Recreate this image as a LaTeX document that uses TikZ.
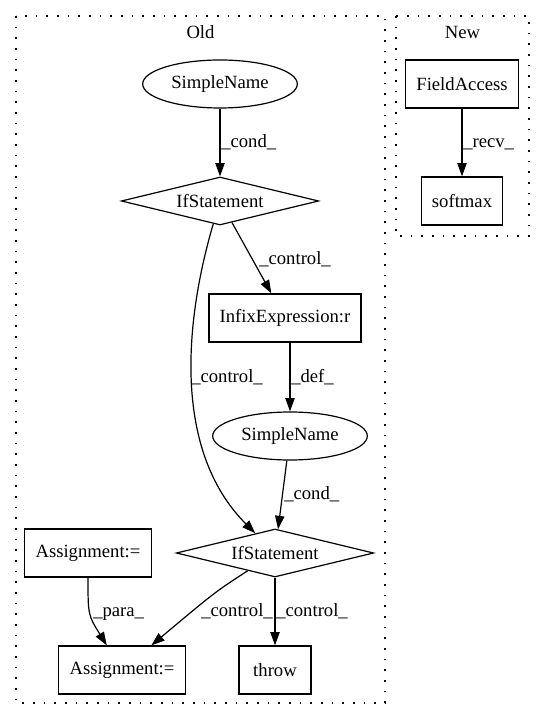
\documentclass[tikz,border=0pt]{standalone}
\usepackage{fontspec}
\setmainfont{Liberation Serif}
\usetikzlibrary{shapes.geometric,arrows.meta}
\begin{document}
\begin{tikzpicture}[x=0.75pt,y=-0.75pt,
  font=\fontsize{14pt}{16pt}\selectfont,
  box/.style={draw,rectangle,minimum height=36pt,minimum width=54pt,inner xsep=8pt,line width=0.9pt},
  ell/.style={draw,ellipse,minimum width=116pt,minimum height=36pt,inner sep=0pt,line width=0.9pt},
  dia/.style={draw,diamond,shape aspect=4.1,minimum width=148pt,minimum height=36pt,inner sep=0pt,line width=0.9pt},
  arr/.style={-{Triangle[length=10pt,width=7pt]},line width=0.9pt},
  lbl/.style={anchor=base west,inner sep=0pt},
  cluster/.style={draw,dash pattern=on 1.2pt off 6.8pt,line width=1pt}]
\useasboundingbox (0,0) rectangle (544,712);
% clusters
\draw[cluster] (16,16) rectangle (385,703);
\draw[cluster] (396,16) rectangle (529,236);
\node (oldlbl) at (200.5,32) {Old};
\node (newlbl) at (462.5,32) {New};
% nodes
\node[ell] (sn1) at (220,84) {SimpleName};
\node[dia] (if1) at (220,201) {IfStatement};
\node[box] (infix) at (285,318) {InfixExpression:r};
\node[ell] (sn2) at (290,436) {SimpleName};
\node[dia] (if2) at (275,553) {IfStatement};
\node[box] (assign1) at (88,553) {Assignment:=};
\node[box] (assign2) at (122,670) {Assignment:=};
\node[box] (throw) at (275,670) {throw};
\node[box] (fa) at (462,84) {FieldAccess};
\node[box] (softmax) at (462,201) {softmax};
% edges
\draw[arr] (sn1) -- (if1);
\node[lbl] (l1) at (221,147.5) {\_cond\_};
\draw[arr] (if1) -- (infix);
\node[lbl] (l2) at (259,264.5) {\_control\_};
\draw[arr] (if1) .. controls (185,320) and (172,450) .. (if2);
\node[lbl] (l3) at (191,382) {\_control\_};
\draw[arr] (infix.south -| sn2) -- (sn2);
\node[lbl] (l4) at (291,382) {\_def\_};
\draw[arr] (sn2) -- (if2);
\node[lbl] (l5) at (284,499.5) {\_cond\_};
\draw[arr] (if2) .. controls (215,592) .. (assign2);
\node[lbl] (l6) at (201,616.5) {\_control\_};
\draw[arr] (if2) -- (throw);
\node[lbl] (l7) at (276,616.5) {\_control\_};
\draw[arr] (assign1) .. controls (88,615) .. (assign2);
\node[lbl] (l8) at (93,616.5) {\_para\_};
\draw[arr] (fa) -- (softmax);
\node[lbl] (l9) at (463,147.5) {\_recv\_};
\end{tikzpicture}
\end{document}
